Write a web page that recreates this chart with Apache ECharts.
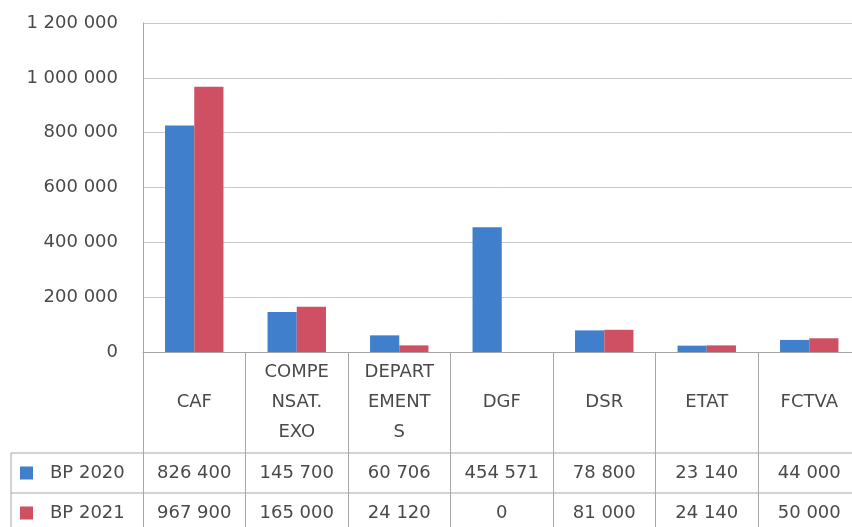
<!DOCTYPE html>
<html><head><meta charset="utf-8">
<script src="https://cdn.jsdelivr.net/npm/echarts@6/dist/echarts.min.js"></script>
<style>html,body{margin:0;padding:0;background:#fff;overflow:hidden;width:852px;height:527px}#c{width:861px;height:527px}</style>
</head><body><div id="c"></div>
<script>
var categories = ['CAF', 'COMPE\nNSAT.\nEXO', 'DEPART\nEMENT\nS', 'DGF', 'DSR', 'ETAT', 'FCTVA'];
var seriesNames = ['BP 2020', 'BP 2021'];
var bp2020 = [826400, 145700, 60706, 454571, 78800, 23140, 44000];
var bp2021 = [967900, 165000, 24120, 0, 81000, 24140, 50000];
var yTicks = [0, 200000, 400000, 600000, 800000, 1000000, 1200000];

function fmt(v) { return String(v).replace(/\B(?=(\d{3})+(?!\d))/g, ' '); }
function catLabel(c) { var n = c.split('\n').length; return n === 1 ? '\n' + c + '\n' : c; }

var FONT = 'DejaVu Sans';
var TXT = '#4a4a4a';
var LINE = '#a6a6a6';
var chart = echarts.init(document.getElementById('c'));
var valAxis = function (data, off) {
  return {
    type: 'category', data: data.map(fmt), position: 'bottom', offset: off, gridIndex: 0,
    axisLine: { show: false }, axisTick: { show: false },
    axisLabel: { interval: 0, margin: 0, verticalAlign: 'middle', color: TXT, fontFamily: FONT, fontSize: 18 }
  };
};
chart.setOption({
  animation: false,
  grid: { left: 143, top: 23, right: 0.5, bottom: 175, containLabel: false },
  legend: {
    orient: 'vertical', left: 20, top: 463, padding: 0, itemGap: 20,
    itemWidth: 13, itemHeight: 13, icon: 'rect',
    textStyle: { color: TXT, fontFamily: FONT, fontSize: 18, lineHeight: 20, padding: [0, 0, 0, 12] },
    data: seriesNames
  },
  xAxis: [
    {
      type: 'category', data: categories,
      axisLine: { show: true, lineStyle: { color: LINE } },
      axisTick: { show: true, interval: 0, length: 175, lineStyle: { color: LINE } },
      axisLabel: { interval: 0, margin: 5, lineHeight: 30, color: TXT, fontFamily: FONT, fontSize: 18, formatter: catLabel }
    },
    valAxis(bp2020, 121),
    valAxis(bp2021, 161)
  ],
  yAxis: {
    type: 'value', min: yTicks[0], max: yTicks[yTicks.length - 1], interval: yTicks[1] - yTicks[0],
    axisLine: { show: true, lineStyle: { color: LINE } },
    axisTick: { show: false },
    splitLine: { lineStyle: { color: '#c8c8c8' } },
    axisLabel: { margin: 25, color: TXT, fontFamily: FONT, fontSize: 18, formatter: fmt }
  },
  graphic: [
    { type: 'line', shape: { x1: 11, y1: 453, x2: 861, y2: 453 }, style: { stroke: LINE, lineWidth: 1 } },
    { type: 'line', shape: { x1: 11, y1: 493, x2: 861, y2: 493 }, style: { stroke: LINE, lineWidth: 1 } },
    { type: 'line', shape: { x1: 11, y1: 453, x2: 11, y2: 527 }, style: { stroke: LINE, lineWidth: 1 } }
  ],
  series: [
    { name: seriesNames[0], type: 'bar', data: bp2020, barGap: 0, barCategoryGap: '43%', itemStyle: { color: '#3F7FCB' } },
    { name: seriesNames[1], type: 'bar', data: bp2021, barGap: 0, barCategoryGap: '43%', itemStyle: { color: '#CF4F63' } }
  ]
});
</script></body></html>
